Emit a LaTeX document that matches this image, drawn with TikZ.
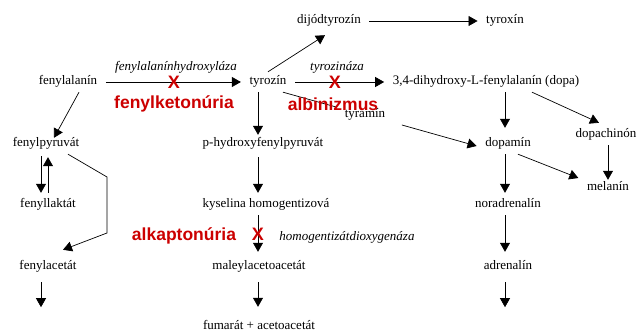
\documentclass[tikz,border=0pt]{standalone}
\usepackage{fontspec}
\setmainfont{Liberation Serif}
\setsansfont{Liberation Sans}
\usetikzlibrary{arrows.meta}
\definecolor{dred}{RGB}{204,0,0}
\begin{document}
\begin{tikzpicture}[x=1pt,y=-1pt,
  txt/.style={font=\fontsize{13}{15}\selectfont, inner xsep=8.5pt, inner ysep=4pt, text height=9pt, text depth=3pt},
  enz/.style={font=\fontsize{13}{15}\selectfont\itshape, inner sep=0pt},
  dis/.style={font=\fontsize{17.5}{20}\selectfont\sffamily\bfseries, text=dred, inner sep=0pt},
  xmark/.style={font=\fontsize{18}{20}\selectfont\sffamily\bfseries, text=dred, inner sep=0pt},
  arr/.style={-{Triangle[length=9pt,width=10pt]}, line width=0.7pt},
  ln/.style={line width=0.7pt}]
\useasboundingbox (0,0) rectangle (638,336);
% nodes
\node[txt] (fa) at (68,82) {fenylalanín};
\node[txt] (tyr) at (268,82) {tyrozín};
\node[txt] (dij) at (329,21) {dijódtyrozín};
\node[txt] (tyx) at (505,21) {tyroxín};
\node[txt] (dopa) at (486,82) {3,4-dihydroxy-L-fenylalanín (dopa)};
\node[txt] (tyram) at (365,115) {tyramín};
\node[txt] (dpm) at (508,144) {dopamín};
\node[txt] (dch) at (606,135) {dopachinón};
\node[txt] (mel) at (608,188) {melanín};
\node[txt] (nor) at (508,205) {noradrenalín};
\node[txt] (adr) at (508,267) {adrenalín};
\node[txt] (fp) at (46,144) {fenylpyruvát};
\node[txt] (fl) at (48,205) {fenyllaktát};
\node[txt] (fac) at (48,267) {fenylacetát};
\node[txt] (phyd) at (263,144) {p-hydroxyfenylpyruvát};
\node[txt] (kys) at (266,205) {kyselina homogentizová};
\node[txt] (mal) at (259,267) {maleylacetoacetát};
\node[txt] (fum) at (259,327) {fumarát + acetoacetát};
% connectors
\draw[arr] (fa.east) -- (tyr.west);
\draw[arr] (tyr.north) -- ([xshift=-4pt,yshift=-4pt]dij.south);
\draw[arr] (dij.east) -- (tyx.west);
\draw[arr] (tyr.east) -- (dopa.west);
\draw[ln] ([xshift=15pt]tyr.south) -- ([yshift=8pt]tyram.west);
\draw[arr] ([xshift=8pt,yshift=-10pt]tyram.east) -- ([yshift=-2pt]dpm.west);
\draw[arr] ([xshift=19pt]dopa.south) -- ([xshift=-3pt,yshift=6pt]dpm.north);
\draw[arr] ([xshift=46pt]dopa.south) -- ([xshift=-7pt,yshift=2pt]dch.north);
\draw[arr] ([xshift=2pt]dch.south) -- ([yshift=-2pt]mel.north);
\draw[arr] ([xshift=10pt]dpm.south) -- ([yshift=10pt]mel.west);
\draw[arr] ([xshift=-3pt]dpm.south) -- ([xshift=-3pt,yshift=2pt]nor.north);
\draw[arr] ([xshift=-3pt]nor.south) -- ([xshift=-3pt,yshift=5pt]adr.north);
\draw[arr] ([xshift=-3pt,yshift=-5pt]adr.south) -- ++(0,25);
\draw[arr] ([xshift=11pt]fa.south) -- ([xshift=8pt,yshift=-4pt]fp.north);
\draw[arr] ([xshift=-5pt,yshift=-2pt]fp.south) -- ([xshift=-7pt,yshift=2pt]fl.north);
\draw[arr] ([xshift=0pt,yshift=2pt]fl.north) -- ([xshift=2pt,yshift=-3pt]fp.south);
\draw[arr] ([xshift=22pt]fp.south) -- (107,177) -- (107,233) -- ([xshift=15pt,yshift=7pt]fac.north);
\draw[arr] ([xshift=-7pt,yshift=-5pt]fac.south) -- ++(0,25);
\draw[arr] ([xshift=-10pt]tyr.south) -- ([xshift=-5pt,yshift=-1pt]phyd.north);
\draw[arr] ([xshift=-5pt,yshift=-3pt]phyd.south) -- ([xshift=-8pt,yshift=2pt]kys.north);
\draw[arr] ([xshift=-8pt]kys.south) -- ([xshift=-1pt,yshift=5pt]mal.north);
\draw[arr] ([xshift=-1pt,yshift=-5pt]mal.south) -- ([xshift=-1pt,yshift=10pt]fum.north);
% labels
\node[enz] (e1) at (176,67) {fenylalanínhydroxyláza};
\node[enz] (e2) at (337,67) {tyrozináza};
\node[enz] (e3) at (347,237) {homogentizátdioxygenáza};
\node[xmark] (x1) at (174,82) {X};
\node[xmark] (x2) at (335,82) {X};
\node[xmark] (x3) at (258,234) {X};
\node[dis] (d1) at (174,104) {fenylketonúria};
\node[dis] (d2) at (333,104) {albinizmus};
\node[dis] (d3) at (184,236) {alkaptonúria};
\end{tikzpicture}
\end{document}
